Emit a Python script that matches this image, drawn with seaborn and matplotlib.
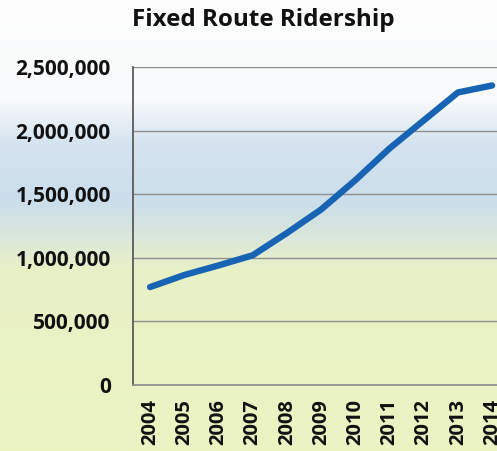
import numpy as np
import pandas as pd
import seaborn as sns
import matplotlib.pyplot as plt
from matplotlib.colors import LinearSegmentedColormap
from matplotlib.ticker import FuncFormatter, FixedLocator

# ridership by year
years = ['2004', '2005', '2006', '2007', '2008', '2009', '2010', '2011', '2012', '2013', '2014']
riders = [770000, 865000, 940000, 1020000, 1195000, 1380000, 1610000, 1860000, 2080000, 2300000, 2355000]
y_ticks = [0, 500000, 1000000, 1500000, 2000000, 2500000]

Data = pd.DataFrame({'year': years, 'riders': riders})

sns.set_theme(style='white')
plt.rcParams['font.family'] = ['Open Sans', 'DejaVu Sans']

fig = plt.figure(figsize=(4.97, 4.51), dpi=100)

# scanned gradient background: white top, pale blue band, yellow-green bottom
bg = fig.add_axes([0, 0, 1, 1], zorder=-1)
cmap = LinearSegmentedColormap.from_list('bg', [
    (0.0, '#fdfdfd'), (0.22, '#f8fafb'), (0.32, '#d4e3ef'),
    (0.45, '#cbdeeb'), (0.53, '#dce8da'), (0.60, '#e8f1c6'), (1.0, '#ecf4c2')])
grad = np.linspace(0, 1, 256).reshape(-1, 1)
bg.imshow(grad, aspect='auto', cmap=cmap, extent=[0, 1, 1, 0])
bg.axis('off')

ax = fig.add_axes([0.2676, 0.1463, 0.757, 0.7051])
ax.patch.set_alpha(0)

sns.lineplot(data=Data, x='year', y='riders', sort=False, color='#1764b5',
             linewidth=4.6, ax=ax, solid_capstyle='round', solid_joinstyle='round')

ax.set_xlim(-0.5, len(years) - 0.5)
ax.set_ylim(0, 2500000)
ax.yaxis.set_major_locator(FixedLocator(y_ticks))
ax.yaxis.set_major_formatter(FuncFormatter(lambda v, p: f'{int(v):,}'))
ax.grid(axis='y', color='#8f8f8f', linewidth=1.0)
ax.set_axisbelow(True)

ax.set_xlabel('')
ax.set_ylabel('')
for s in ['top', 'right']:
    ax.spines[s].set_visible(False)
ax.spines['left'].set_color('#555555')
ax.spines['bottom'].set_color('#8f8f8f')

ax.set_xticks(range(len(years)))
ax.set_xticklabels(years, rotation=90, fontweight='bold', fontsize=14.5, color='#111111')
ax.set_xticks(np.arange(-0.5, len(years), 1), minor=True)
ax.tick_params(axis='x', which='major', length=0, pad=10)
ax.tick_params(axis='x', which='minor', direction='out', length=6, color='#8f8f8f', width=1)
ax.tick_params(axis='y', direction='out', length=4, color='#8f8f8f', pad=12,
               labelsize=15, labelcolor='#111111')
for lab in ax.get_yticklabels():
    lab.set_fontweight('bold')

fig.text(0.53, 0.955, 'Fixed Route Ridership', ha='center', va='center',
         fontsize=17.5, fontweight='bold', color='#111111')

fig.savefig('out.png', dpi=100)
